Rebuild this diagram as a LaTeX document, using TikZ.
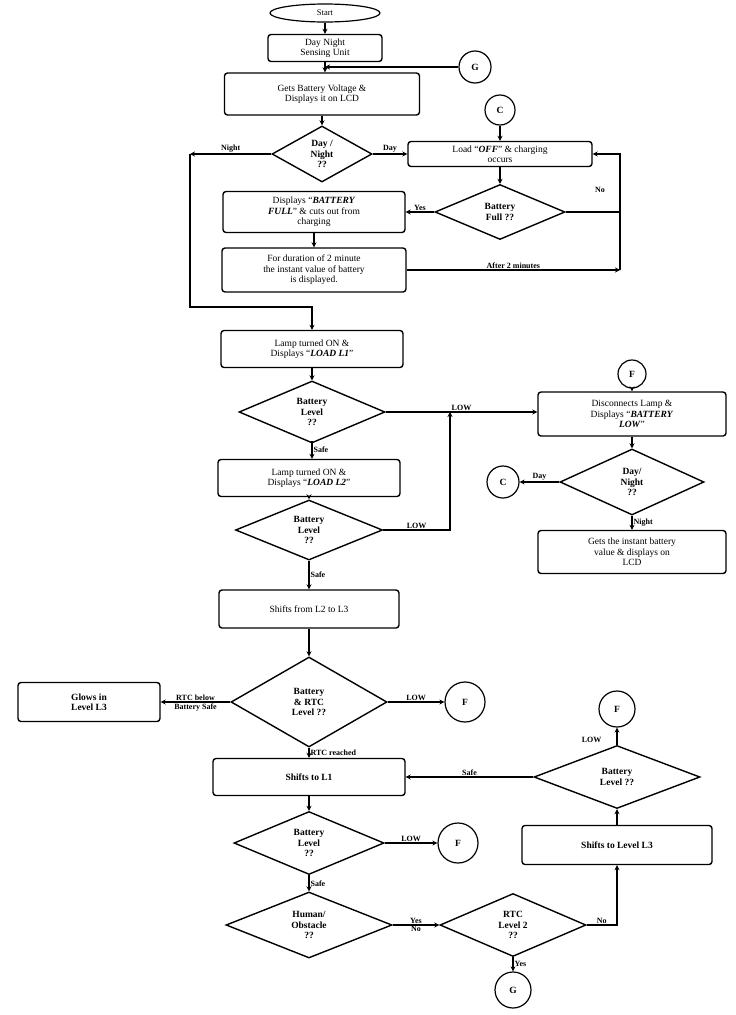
\documentclass[tikz,border=0pt]{standalone}
\usepackage{fontspec}
\setmainfont{Liberation Serif}
\usetikzlibrary{shapes.geometric,arrows.meta}
\begin{document}
\begin{tikzpicture}[x=1pt,y=-1pt,
  box/.style={draw,line width=1.4pt,rounded corners=3pt,align=center,font=\fontsize{9.5}{10.5}\selectfont,inner sep=1pt},
  dia/.style={draw,line width=1.4pt,diamond,align=center,font=\bfseries\fontsize{9.5}{10.5}\selectfont,inner sep=0pt},
  conn/.style={draw,line width=1.2pt,circle,minimum size=34pt,font=\bfseries\fontsize{9.5}{10}\selectfont,inner sep=0pt},
  lab/.style={font=\bfseries\fontsize{8}{9}\selectfont,inner sep=1pt},
  ar/.style={line width=1.2pt,-{Stealth[length=5pt,width=5pt]}},
  ln/.style={line width=1.2pt}]
\useasboundingbox (0,0) rectangle (736,1015);
% top section
\node[draw,line width=1.2pt,ellipse,minimum width=110pt,minimum height=18pt,font=\fontsize{8.5}{9}\selectfont,inner sep=0pt] (start) at (325,13) {Start};
\node[box,minimum width=114pt,minimum height=27pt] (sense) at (325,48) {Day Night\\Sensing Unit};
\node[conn,minimum size=32pt] (g1) at (475,67) {G};
\node[box,minimum width=195pt,minimum height=42pt] (gets) at (322,94) {Gets Battery Voltage \&\\Displays it on LCD};
\node[dia,minimum width=100pt,minimum height=56pt] (dn1) at (322,154) {Day /\\Night\\??};
\node[conn,minimum size=30pt] (c1) at (500,110) {C};
\node[box,minimum width=184pt,minimum height=25pt] (off) at (500,154) {Load ``\textbf{\textit{OFF}}'' \& charging\\occurs};
\node[dia,minimum width=130pt,minimum height=55pt] (full) at (500,212) {Battery\\Full ??};
\node[box,minimum width=182pt,minimum height=41pt] (bfull) at (314,212) {Displays ``\textbf{\textit{BATTERY}}\\\textbf{\textit{FULL}}'' \& cuts out from\\charging};
\node[box,minimum width=184pt,minimum height=44pt] (dur) at (314,270) {For duration of 2 minute\\the instant value of battery\\is displayed.};
\coordinate (rtop) at (620,154);
\coordinate (rmid) at (620,212);
\coordinate (rbot) at (620,270);
\coordinate (nl) at (190,154);
\coordinate (nd) at (190,307);
\coordinate (nr) at (312,307);
% middle
\node[box,minimum width=182pt,minimum height=37pt] (l1) at (312,349) {Lamp turned ON \&\\Displays ``\textbf{\textit{LOAD L1}}''};
\node[dia,minimum width=146pt,minimum height=62pt] (bl1) at (312,412) {Battery\\Level\\??};
\node[box,minimum width=182pt,minimum height=37pt] (l2) at (309,478) {Lamp turned ON \&\\Displays ``\textbf{\textit{LOAD L2}}''};
\node[dia,minimum width=147pt,minimum height=60pt] (bl2) at (309,530) {Battery\\Level\\??};
\node[box,minimum width=180pt,minimum height=38pt] (l23) at (309,609) {Shifts from L2 to L3};
\coordinate (jx) at (450,412);
\coordinate (jy) at (450,530);
\node[conn,minimum size=28pt] (f1) at (632,374) {F};
\node[box,minimum width=188pt,minimum height=44pt] (disc) at (632,414) {Disconnects Lamp \&\\Displays ``\textbf{\textit{BATTERY}}\\\textbf{\textit{LOW}}''};
\node[dia,minimum width=144pt,minimum height=66pt] (dn2) at (632,482) {Day/\\Night\\??};
\node[conn,minimum size=32pt] (c2) at (503,482) {C};
\node[box,minimum width=188pt,minimum height=43pt] (inst) at (632,552) {Gets the instant battery\\value \& displays on\\LCD};
% bottom
\node[dia,minimum width=156pt,minimum height=90pt] (brtc) at (309,702) {Battery\\\& RTC\\Level ??};
\node[box,minimum width=142pt,minimum height=39pt,font=\bfseries\fontsize{9.5}{10.5}\selectfont] (glow) at (89,702) {Glows in\\Level L3};
\node[conn,minimum size=40pt] (f2) at (465,702) {F};
\node[box,minimum width=192pt,minimum height=37pt,font=\bfseries\fontsize{9.5}{10.5}\selectfont] (sl1) at (309,777) {Shifts to L1};
\node[dia,minimum width=150pt,minimum height=63pt] (bl3) at (309,843) {Battery\\Level\\??};
\node[conn,minimum size=40pt] (f3) at (458,843) {F};
\node[dia,minimum width=166pt,minimum height=66pt] (hum) at (309,925) {Human/\\Obstacle\\??};
\node[dia,minimum width=146pt,minimum height=63pt] (rtc2) at (513,925) {RTC\\Level 2\\??};
\node[conn,minimum size=36pt] (g2) at (513,990) {G};
\node[box,minimum width=190pt,minimum height=39pt,font=\bfseries\fontsize{9.5}{10.5}\selectfont] (sl3) at (617,845) {Shifts to Level L3};
\node[dia,minimum width=166pt,minimum height=63pt] (bl4) at (617,777) {Battery\\Level ??};
\node[conn,minimum size=36pt] (f4) at (617,709) {F};
\coordinate (nob) at (617,925);
% connectors
\draw[ar] (start) -- (sense);
\draw[ar] (sense) -- (gets.north -| sense);
\draw[ar] (g1) -- (g1 -| sense.south);
\draw[ar] (gets.south -| dn1) -- (dn1);
\draw[ar] (dn1.east) -- node[lab,above]{Day} (off.west);
\draw[ar] (c1) -- (off);
\draw[ar] (off) -- (full);
\draw[ar] (full.west) -- node[lab,above]{Yes} (bfull.east);
\draw[ar] (bfull) -- (dur);
\draw[ln] (full.east) -- (rmid);
\draw[ar] (rmid) -- (rtop) -- (off.east);
\node[lab] (nolab) at (600,190) {No};
\draw[ar] (dur.east) -- node[lab,above]{After 2 minutes} (rbot);
\draw[ln] (rbot) -- (rmid);
\draw[ar] (dn1.west) -- node[lab,above]{Night} (nl);
\draw[ar] (nl) -- (nd) -- (nr) -- (l1.north);
\draw[ar] (l1) -- (bl1);
\draw[ar] (bl1.south |- l2.north) ++(0,-18) -- node[lab,right]{Safe} (l2.north -| bl1.south);
\draw[ar] (l2) -- (bl2);
\draw[ar] (bl2) -- node[lab,right]{Safe} (l23);
\draw[ar] (bl1.east) -- node[lab,above]{LOW} (disc.west |- bl1.east);
\draw[ar] (bl2.east) -- node[lab,above]{LOW} (jy) -- (jx);
\draw[ar] (f1) -- (disc);
\draw[ar] (disc) -- (dn2);
\draw[ar] (dn2.west) -- node[lab,above]{Day} (c2);
\draw[ar] (dn2) -- node[lab,right]{Night} (inst);
\draw[ar] (l23) -- (brtc);
\draw[ar] (brtc.west) -- node[lab,above]{RTC below} node[lab,below]{Battery Safe} (glow.east);
\draw[ar] (brtc.east) -- node[lab,above]{LOW} (f2);
\draw[ar] (brtc) -- node[lab,right]{RTC reached} (sl1);
\draw[ar] (sl1) -- (bl3);
\draw[ar] (bl3.east) -- node[lab,above]{LOW} (f3);
\draw[ar] (bl3) -- node[lab,right]{Safe} (hum);
\draw[ar] (hum.east) -- node[lab,above]{Yes} node[lab,below]{No} (rtc2.west);
\draw[ar] (rtc2) -- node[lab,right]{Yes} (g2);
\draw[ar] (rtc2.east) -- node[lab,above]{No} (nob) -- (sl3);
\draw[ar] (sl3) -- (bl4);
\draw[ar] (bl4) -- node[lab,pos=0.3,left=14pt]{LOW} (f4);
\draw[ar] (bl4.west) -- node[lab,above]{Safe} (sl1.east |- bl4.west);
\end{tikzpicture}
\end{document}
